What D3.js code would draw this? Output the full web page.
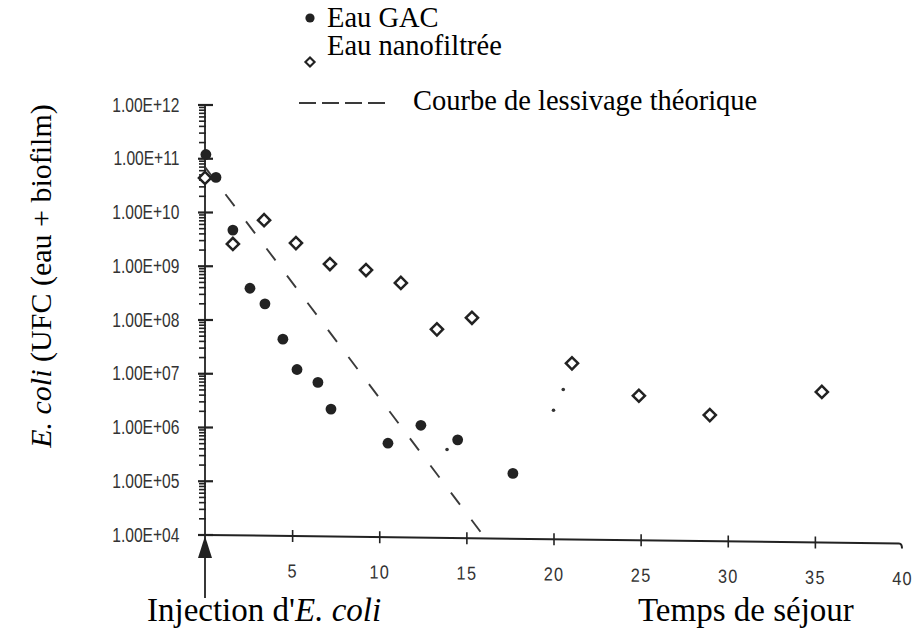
<!DOCTYPE html>
<html>
<head>
<meta charset="utf-8">
<script src="https://cdn.jsdelivr.net/npm/d3@7"></script>
<style>
  body { margin: 0; background: #fff; }
  svg { display: block; }
</style>
</head>
<body>
<svg id="chart" width="920" height="631"></svg>
<script>
// E. coli counts (water + biofilm) against residence time
const gacTime  = [0.05, 0.63, 1.6, 2.58, 3.44, 4.47, 5.28, 6.48, 7.23, 10.5, 12.39, 14.5, 17.67];
const gacCount = [1.2e11, 4.5e10, 4.7e9, 3.9e8, 2.0e8, 4.4e7, 1.2e7, 6.9e6, 2.2e6, 5.1e5, 1.1e6, 5.9e5, 1.4e5];

const nfTime  = [0, 1.6, 3.39, 5.22, 7.17, 9.24, 11.24, 13.31, 15.32, 21.06, 24.9, 28.97, 35.4];
const nfCount = [4.4e10, 2.6e9, 7.2e9, 2.7e9, 1.1e9, 8.5e8, 4.9e8, 6.7e7, 1.1e8, 1.56e7, 3.9e6, 1.7e6, 4.6e6];

// faintly printed GAC marks
const gacFaintTime  = [13.89, 20.0, 20.56];
const gacFaintCount = [3.9e5, 2.1e6, 5.1e6];

// theoretical washout curve (log-linear)
const theoryTime  = [0, 15.95];
const theoryCount = [7e10, 1e4];

const xTickValues = [5, 10, 15, 20, 25, 30, 35, 40];
const xTickLabels = ["5", "10", "15", "20", "25", "30", "35", "40"];
const yTickValues = [1e4, 1e5, 1e6, 1e7, 1e8, 1e9, 1e10, 1e11, 1e12];
const yTickLabels = ["1.00E+04", "1.00E+05", "1.00E+06", "1.00E+07", "1.00E+08",
                     "1.00E+09", "1.00E+10", "1.00E+11", "1.00E+12"];

const legendLabels = ["Eau GAC", "Eau nanofiltrée", "Courbe de lessivage théorique"];

const ink = "#222";
const svg = d3.select("#chart");

const x = d3.scaleLinear().domain([0, 40]).range([205, 902]);
const y = d3.scaleLog().domain([1e4, 1e12]).range([535, 105]);

const tickFont = "'Liberation Sans', Arial, sans-serif";
const serif = "'Liberation Serif', 'Times New Roman', serif";

// ---- y axis: labels from the axis generator, tick marks drawn explicitly
const minorValues = [];
for (let e = 4; e < 12; e++) for (let m = 2; m <= 9; m++) minorValues.push(m * Math.pow(10, e));

const yAxis = svg.append("g")
  .attr("transform", `translate(${x(0)},0)`)
  .call(d3.axisLeft(y).tickValues(yTickValues).tickSize(0).tickPadding(32)
        .tickFormat((d, i) => yTickLabels[i]));
yAxis.select(".domain").remove();
yAxis.selectAll(".tick line").remove();
yAxis.selectAll(".tick text")
  .attr("font-family", tickFont).attr("font-size", 19.5).attr("fill", "#333")
  .attr("transform", "scale(0.8,1)");

const yTicks = svg.append("g").attr("stroke", ink);
yTicks.selectAll("line.minor")
  .data(minorValues)
  .join("line")
  .attr("class", "minor")
  .attr("x1", x(0) - 6).attr("x2", x(0) + 1)
  .attr("y1", d => y(d)).attr("y2", d => y(d))
  .attr("stroke-width", 1.6);
yTicks.selectAll("line.major")
  .data(yTickValues)
  .join("line")
  .attr("class", "major")
  .attr("x1", x(0) - 7).attr("x2", x(0) + 8)
  .attr("y1", d => y(d)).attr("y2", d => y(d))
  .attr("stroke-width", 2.2);

// vertical axis line, continuing down to the injection label
svg.append("line")
  .attr("x1", x(0)).attr("x2", x(0))
  .attr("y1", y(1e12)).attr("y2", 598)
  .attr("stroke", ink).attr("stroke-width", 1.8);

// injection arrow
svg.append("path")
  .attr("d", `M${x(0)},${y(1e4) + 1} L${x(0) - 7},558 L${x(0) + 7},558 Z`)
  .attr("fill", ink);

// ---- x axis (the printed axis drifts slightly downward to the right)
const x0 = x(0), y0 = y(1e4);
const xAxis = svg.append("g")
  .attr("transform", `translate(${x0},${y0}) skewY(0.7) translate(${-x0},0)`)
  .call(d3.axisBottom(x).tickValues(xTickValues).tickSize(6).tickPadding(22)
        .tickFormat((d, i) => xTickLabels[i]));
xAxis.select(".domain")
  .attr("d", `M${x(0)},0 H${x(40) - 3} q3,0 3,5`)
  .attr("stroke", ink).attr("stroke-width", 2).attr("fill", "none");
xAxis.selectAll(".tick line").attr("y1", -6).attr("stroke", ink).attr("stroke-width", 1.6);
xAxis.selectAll(".tick").filter(d => d === 40).select("line").remove();
xAxis.selectAll(".tick text")
  .attr("font-family", tickFont).attr("font-size", 19).attr("fill", "#333")
  .attr("letter-spacing", 1.5)
  .attr("transform", "scale(0.86,1)");

// ---- theoretical curve
const theory = theoryTime.map((t, i) => [t, theoryCount[i]]);
svg.append("path")
  .datum(theory)
  .attr("d", d3.line().x(d => x(d[0])).y(d => y(d[1])))
  .attr("fill", "none").attr("stroke", "#3a3a3a").attr("stroke-width", 1.9)
  .attr("stroke-dasharray", "15,19");

// ---- nanofiltered water: open diamonds
const diamond = d3.symbol().type(d3.symbolSquare).size(74)();
svg.append("g").selectAll("path")
  .data(nfTime.map((t, i) => [t, nfCount[i]]))
  .join("path")
  .attr("d", diamond)
  .attr("transform", d => `translate(${x(d[0])},${y(d[1])}) rotate(45)`)
  .attr("fill", "#fff").attr("stroke", ink).attr("stroke-width", 2.5);

// ---- GAC water: filled circles
svg.append("g").selectAll("circle")
  .data(gacTime.map((t, i) => [t, gacCount[i]]))
  .join("circle")
  .attr("cx", d => x(d[0])).attr("cy", d => y(d[1])).attr("r", 5.4)
  .attr("fill", ink);

svg.append("g").selectAll("circle")
  .data(gacFaintTime.map((t, i) => [t, gacFaintCount[i]]))
  .join("circle")
  .attr("cx", d => x(d[0])).attr("cy", d => y(d[1])).attr("r", 1.8)
  .attr("fill", "#333");

// ---- legend
const legend = svg.append("g").attr("font-family", serif).attr("font-size", 28.5).attr("fill", "#000");
legend.append("circle").attr("cx", 310).attr("cy", 18).attr("r", 4.6).attr("fill", ink);
legend.append("text").attr("x", 327).attr("y", 27).text(legendLabels[0]);
legend.append("path").attr("d", d3.symbol().type(d3.symbolSquare).size(42)())
  .attr("transform", "translate(310,62) rotate(45)")
  .attr("fill", "#fff").attr("stroke", ink).attr("stroke-width", 2.1);
legend.append("text").attr("x", 327).attr("y", 55).text(legendLabels[1]);
legend.append("line").attr("x1", 299).attr("x2", 385).attr("y1", 103).attr("y2", 103)
  .attr("stroke", "#3a3a3a").attr("stroke-width", 1.9).attr("stroke-dasharray", "17,6");
legend.append("text").attr("x", 413).attr("y", 110).text(legendLabels[2]);

// ---- axis titles
const yTitle = svg.append("text")
  .attr("transform", "translate(51,276) rotate(-90)")
  .attr("text-anchor", "middle")
  .attr("font-family", serif).attr("font-size", 30).attr("fill", "#000");
yTitle.append("tspan").attr("font-style", "italic").text("E. coli");
yTitle.append("tspan").text(" (UFC (eau + biofilm)");

const inj = svg.append("text")
  .attr("x", 147).attr("y", 621)
  .attr("font-family", serif).attr("font-size", 33).attr("fill", "#000");
inj.append("tspan").text("Injection d'");
inj.append("tspan").attr("font-style", "italic").text("E. coli");

svg.append("text")
  .attr("x", 638).attr("y", 621)
  .attr("font-family", serif).attr("font-size", 33).attr("fill", "#000")
  .text("Temps de séjour");
</script>
</body>
</html>
